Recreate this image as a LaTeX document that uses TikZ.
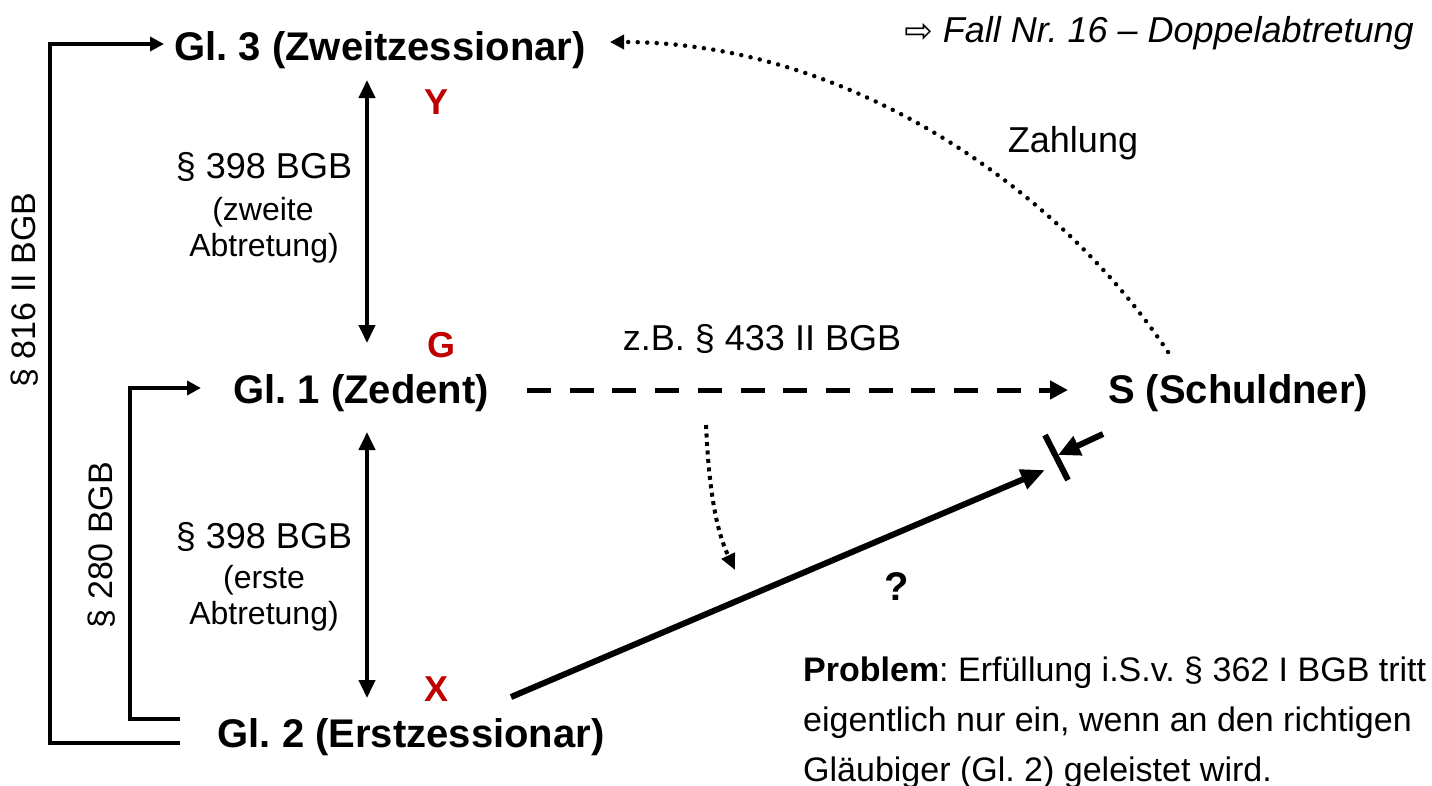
\documentclass[tikz,border=0pt]{standalone}
\usepackage{fontspec}
\setmainfont{Liberation Sans}
\newfontfamily\symfont{DejaVu Sans}
\usetikzlibrary{arrows.meta}
\definecolor{dred}{RGB}{192,0,0}
\frenchspacing
\begin{document}
\frenchspacing
\begin{tikzpicture}[x=1pt,y=-1pt,
  big/.style={font=\fontsize{40}{48}\selectfont\bfseries, inner sep=0pt, anchor=base},
  lab/.style={font=\fontsize{36}{40}\selectfont, inner sep=0pt, anchor=base},
  sublab/.style={font=\fontsize{32}{36}\selectfont, inner sep=0pt, anchor=base},
  probtxt/.style={font=\fontsize{34}{50}\selectfont, inner sep=0pt, anchor=base west},
  redlab/.style={font=\fontsize{36}{40}\selectfont\bfseries, text=dred, inner sep=0pt, anchor=base},
  dbl/.style={{Triangle[length=18pt,width=16pt]}-{Triangle[length=18pt,width=16pt]}, line width=4pt},
  bracket/.style={-{Triangle[length=14pt,width=14pt]}, line width=4pt},
]
\useasboundingbox (0,0) rectangle (1432,785);

% main nodes
\node[big] (g3) at (380,60) {Gl. 3 (Zweitzessionar)};
\node[big] (g1) at (361,403) {Gl. 1 (Zedent)};
\node[big] (g2) at (411,747) {Gl. 2 (Erstzessionar)};
\node[big] (s) at (1238,403) {S (Schuldner)};

% title
\node[anchor=base east, inner sep=0pt, font=\fontsize{36}{40}\selectfont\itshape] (fall) at (1414,42)
  {{\symfont\fontsize{34}{36}\selectfont ⇨} Fall Nr. 16 – Doppelabtretung};

% red letters
\node[redlab] (y) at (437,114) {Y};
\node[redlab] (gg) at (441,357) {G};
\node[redlab] (x) at (437,701) {X};

% labels
\node[lab] (l398a) at (264,178) {§ 398 BGB};
\node[sublab] (l398a1) at (263,220) {(zweite};
\node[sublab] (l398a2) at (264,256) {Abtretung)};
\node[lab] (l398b) at (264,548) {§ 398 BGB};
\node[sublab] (l398b1) at (264,588) {(erste};
\node[sublab] (l398b2) at (264,624) {Abtretung)};
\node[lab] (zb) at (762,350) {z.B. § 433 II BGB};
\node[lab] (zahl) at (1073,152) {Zahlung};
\node[font=\fontsize{40}{44}\selectfont\bfseries, inner sep=0pt, anchor=base] (q) at (897,600) {?};
\node[lab, rotate=90, font=\fontsize{34}{40}\selectfont] (l816) at (35,290) {§ 816 II BGB};
\node[lab, rotate=90, font=\fontsize{34}{40}\selectfont] (l280) at (112,545) {§ 280 BGB};

% problem text
\node[probtxt] (p1) at (803,681) {\textbf{Problem}: Erfüllung i.S.v. § 362 I BGB tritt};
\node[probtxt] (p2) at (803,731) {eigentlich nur ein, wenn an den richtigen};
\node[probtxt] (p3) at (803,781) {Gläubiger (Gl. 2) geleistet wird.};

% coordinates
\coordinate (a1t) at (367,80);
\coordinate (a1b) at (367,343);
\coordinate (a2t) at (367,432);
\coordinate (a2b) at (367,698);
\coordinate (ds) at (527,390);
\coordinate (de) at (1068,390);
\coordinate (cs) at (1168,352);
\coordinate (ce) at (610,42);
\coordinate (ms) at (706,425);
\coordinate (me) at (735,570);
\coordinate (ls) at (511,697);
\coordinate (le) at (1045,470);
\coordinate (b1) at (1045,435);
\coordinate (b2) at (1068,480);
\coordinate (rs) at (1103,434);
\coordinate (re) at (1058,455);
\coordinate (ob) at (180,743);
\coordinate (oe) at (164,44);
\coordinate (ib) at (180,719);
\coordinate (ie) at (201,388);

% connectors
\draw[dbl] (a1t) -- (a1b);
\draw[dbl] (a2t) -- (a2b);
\draw[line width=5pt, dash pattern=on 24pt off 18.7pt, -{Triangle[length=18pt,width=18pt]}] (ds) -- (de);
\draw[line width=4.5pt, line cap=round, dash pattern=on 0pt off 9.5pt, -{Triangle[length=14pt,width=14pt]}]
  (cs) .. controls (1060,190) and (850,42) .. (ce);
\draw[line width=4pt, dash pattern=on 4pt off 4.5pt, -{Triangle[length=16pt,width=14pt]}]
  (ms) .. controls (709,490) and (716,530) .. (me);
\draw[line width=6pt, -{Triangle[length=24pt,width=20pt]}] (ls) -- (le);
\draw[line width=6pt] (b1) -- (b2);
\draw[line width=6pt, -{Triangle[length=22pt,width=20pt]}] (rs) -- (re);
\draw[bracket] (ob) -| (50,44) -- (oe);
\draw[bracket] (ib) -| (130,388) -- (ie);
\end{tikzpicture}
\end{document}
